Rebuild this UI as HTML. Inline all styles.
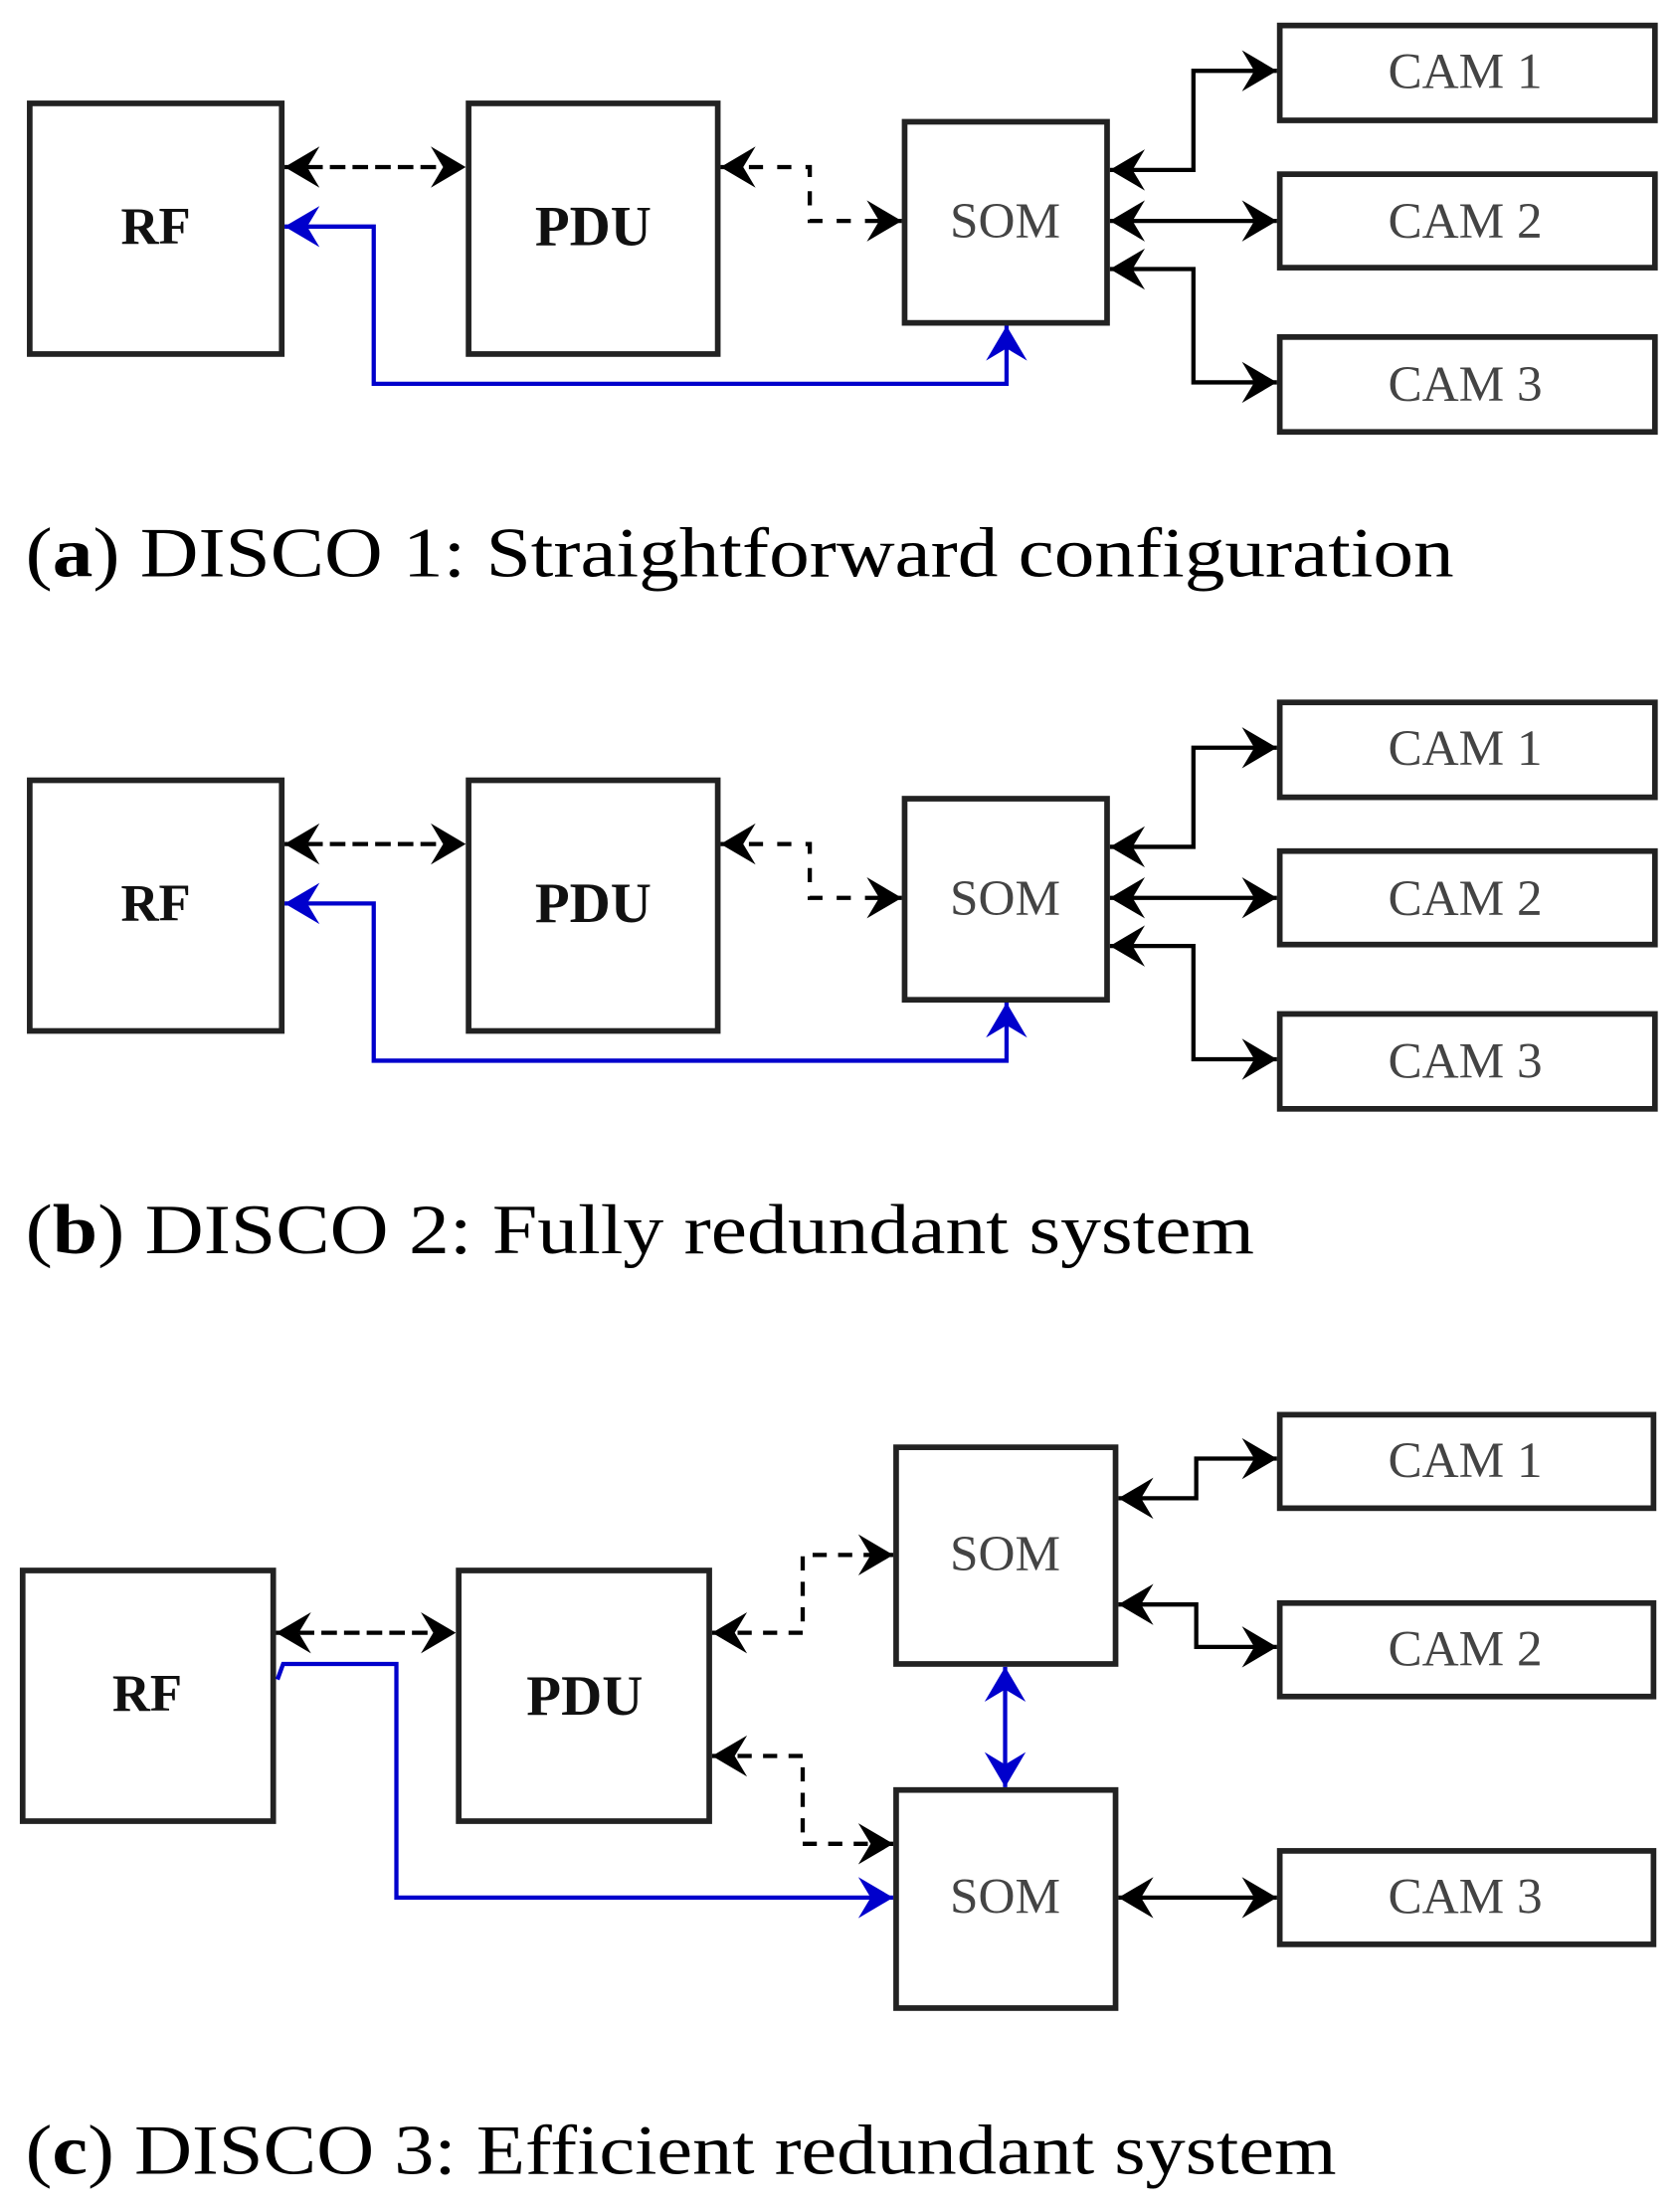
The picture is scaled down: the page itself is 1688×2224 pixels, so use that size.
<!DOCTYPE html>
<html><head><meta charset="utf-8"><style>
html,body{margin:0;padding:0;background:#fff;}
svg{display:block;}
</style></head><body>
<svg width="1688" height="2224" viewBox="0 0 1186 1562" preserveAspectRatio="none" xmlns="http://www.w3.org/2000/svg">
<defs>
<marker id="ak" markerUnits="userSpaceOnUse" markerWidth="32" markerHeight="32" viewBox="-18 -11 20 22" refX="0" refY="0" orient="auto-start-reverse">
<path d="M0,0 L-17,-10 L-11,0 L-17,10 Z" fill="#000"/></marker>
<marker id="ab" markerUnits="userSpaceOnUse" markerWidth="32" markerHeight="32" viewBox="-18 -11 20 22" refX="0" refY="0" orient="auto-start-reverse">
<path d="M0,0 L-17,-10 L-11,0 L-17,10 Z" fill="#0000cc"/></marker>
</defs>
<g fill="none" stroke-width="3">
<g id="pa">
<g stroke="#222" stroke-width="4">
<rect x="21" y="73" width="178" height="177"/>
<rect x="331" y="73" width="176" height="177"/>
<rect x="639" y="86" width="143" height="142"/>
<rect x="904" y="18" width="265" height="67"/>
<rect x="904" y="123" width="265" height="66"/>
<rect x="904" y="238" width="265" height="67"/>
</g>
<line x1="201" y1="118" x2="329" y2="118" stroke="#000" stroke-dasharray="11,5" marker-start="url(#ak)" marker-end="url(#ak)"/>
<polyline points="509,118 572,118 572,156 637,156" stroke="#000" stroke-dasharray="10,10" marker-start="url(#ak)" marker-end="url(#ak)"/>
<polyline points="201,160 264,160 264,271 711,271 711,230" stroke="#0000cc" marker-start="url(#ab)" marker-end="url(#ab)"/>
<polyline points="784,120 843,120 843,50 902,50" stroke="#000" marker-start="url(#ak)" marker-end="url(#ak)"/>
<line x1="784" y1="156" x2="902" y2="156" stroke="#000" marker-start="url(#ak)" marker-end="url(#ak)"/>
<polyline points="784,190 843,190 843,270 902,270" stroke="#000" marker-start="url(#ak)" marker-end="url(#ak)"/>
</g>
<use href="#pa" transform="translate(0,478)"/>
<g stroke="#222" stroke-width="4">
<rect x="16" y="1109" width="177" height="177"/>
<rect x="324" y="1109" width="177" height="177"/>
<rect x="633" y="1022" width="155" height="153"/>
<rect x="633" y="1264" width="155" height="154"/>
<rect x="904" y="999" width="264" height="66"/>
<rect x="904" y="1132" width="264" height="66"/>
<rect x="904" y="1307" width="264" height="66"/>
</g>
<line x1="195" y1="1153" x2="322" y2="1153" stroke="#000" stroke-dasharray="11,5" marker-start="url(#ak)" marker-end="url(#ak)"/>
<polyline points="503,1153 567,1153 567,1098 631,1098" stroke="#000" stroke-dasharray="10,8" marker-start="url(#ak)" marker-end="url(#ak)"/>
<polyline points="503,1240 567,1240 567,1302 631,1302" stroke="#000" stroke-dasharray="10,8" marker-start="url(#ak)" marker-end="url(#ak)"/>
<polyline points="196,1186 200,1175 280,1175 280,1340 631,1340" stroke="#0000cc" marker-end="url(#ab)"/>
<line x1="710" y1="1177" x2="710" y2="1262" stroke="#0000cc" marker-start="url(#ab)" marker-end="url(#ab)"/>
<polyline points="790,1058 845,1058 845,1030 902,1030" stroke="#000" marker-start="url(#ak)" marker-end="url(#ak)"/>
<polyline points="790,1133 845,1133 845,1163 902,1163" stroke="#000" marker-start="url(#ak)" marker-end="url(#ak)"/>
<line x1="790" y1="1340" x2="902" y2="1340" stroke="#000" marker-start="url(#ak)" marker-end="url(#ak)"/>
</g>
<g font-family="Liberation Serif, serif" text-anchor="middle">
<g id="ta">
<text x="110" y="172" font-size="37" font-weight="bold" fill="#111">RF</text>
<text x="419" y="173" font-size="40" font-weight="bold" fill="#111">PDU</text>
<text x="710" y="168" font-size="36" fill="#444">SOM</text>
<text x="1035" y="62" font-size="36" fill="#444">CAM 1</text>
<text x="1035" y="168" font-size="36" fill="#444">CAM 2</text>
<text x="1035" y="283" font-size="36" fill="#444">CAM 3</text>
</g>
<use href="#ta" transform="translate(0,478)"/>
<text x="104" y="1208" font-size="37" font-weight="bold" fill="#111">RF</text>
<text x="413" y="1211" font-size="40" font-weight="bold" fill="#111">PDU</text>
<text x="710" y="1109" font-size="36" fill="#444">SOM</text>
<text x="710" y="1351" font-size="36" fill="#444">SOM</text>
<text x="1035" y="1043" font-size="36" fill="#444">CAM 1</text>
<text x="1035" y="1176" font-size="36" fill="#444">CAM 2</text>
<text x="1035" y="1351" font-size="36" fill="#444">CAM 3</text>
</g>
<g font-family="Liberation Serif, serif" font-size="50" fill="#000">
<text x="18" y="407" textLength="1009" lengthAdjust="spacingAndGlyphs">(<tspan font-weight="bold">a</tspan>) DISCO 1: Straightforward configuration</text>
<text x="18" y="885" textLength="868" lengthAdjust="spacingAndGlyphs">(<tspan font-weight="bold">b</tspan>) DISCO 2: Fully redundant system</text>
<text x="18" y="1535" textLength="926" lengthAdjust="spacingAndGlyphs">(<tspan font-weight="bold">c</tspan>) DISCO 3: Efficient redundant system</text>
</g>
</svg>
</body></html>
